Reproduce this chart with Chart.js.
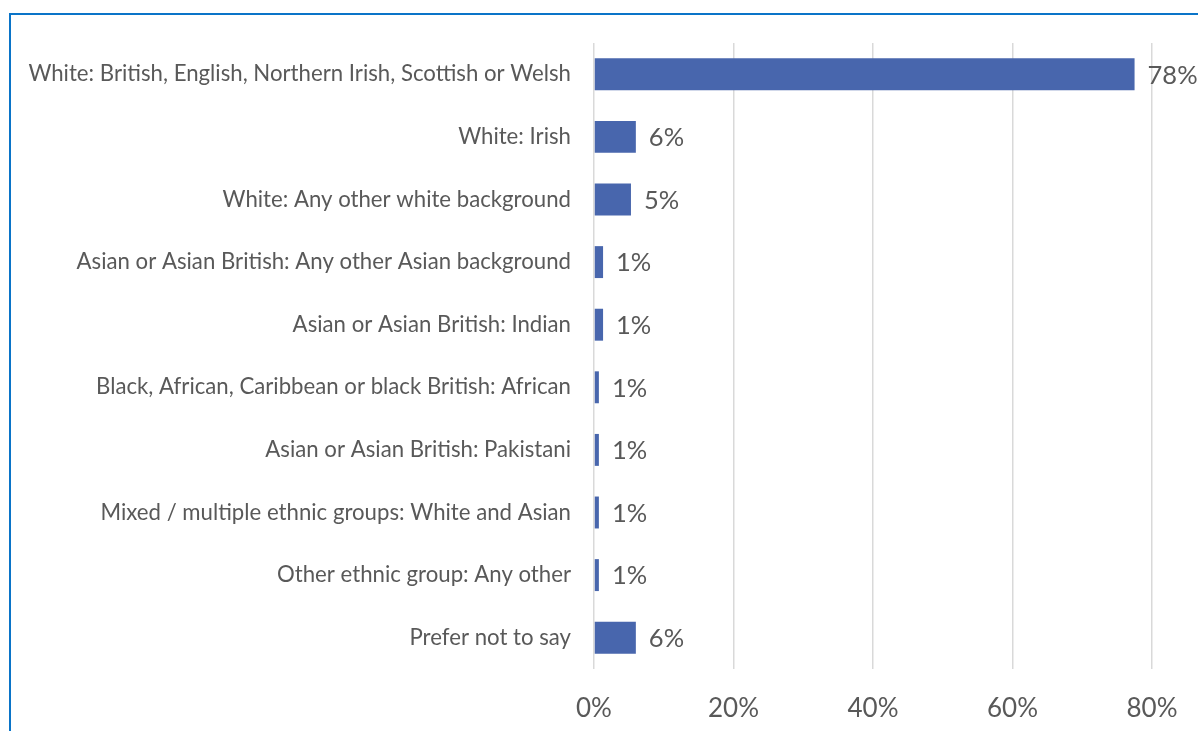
<!DOCTYPE html>
<html>
<head>
<meta charset="utf-8">
<title>Ethnic group of respondents</title>
<script src="https://cdn.jsdelivr.net/npm/chart.js@4/dist/chart.umd.min.js"></script>
<style>
  html, body { margin: 0; padding: 0; background: #ffffff; overflow: hidden; }
  #wrap { position: relative; width: 1198px; height: 731px; }
  #chart { position: absolute; left: 0; top: 0; }
  #frame {
    position: absolute; left: 9px; top: 13px; width: 1400px; height: 900px;
    border-left: 2px solid #0a74c8; border-top: 2px solid #0a74c8;
    pointer-events: none;
  }
</style>
</head>
<body>
<div id="wrap">
  <canvas id="chart" width="1198" height="731"></canvas>
  <div id="frame"></div>
</div>
<script>
// Ethnic group categories, top to bottom
const categories = [
  'White: British, English, Northern Irish, Scottish or Welsh',
  'White: Irish',
  'White: Any other white background',
  'Asian or Asian British: Any other Asian background',
  'Asian or Asian British: Indian',
  'Black, African, Caribbean or black British: African',
  'Asian or Asian British: Pakistani',
  'Mixed / multiple ethnic groups: White and Asian',
  'Other ethnic group: Any other',
  'Prefer not to say'
];

// Share of respondents (%)
const shares = [77.5, 6.0, 5.3, 1.3, 1.3, 0.7, 0.7, 0.7, 0.7, 6.0];

// Percentage axis ticks
const axisMin = 0;
const axisMax = 80;
const axisStep = 20;

const textColor = '#595959';
const barColor = '#4866ad';
const gridColor = '#d9d9d9';
const fontFamily = 'Lato, "Open Sans", sans-serif';

// Writes the rounded percentage just past the end of each bar
const valueLabels = {
  id: 'valueLabels',
  afterDatasetsDraw(chart) {
    const ctx = chart.ctx;
    const meta = chart.getDatasetMeta(0);
    const values = chart.data.datasets[0].data;
    ctx.save();
    ctx.font = '25.5px ' + fontFamily;
    ctx.fillStyle = textColor;
    ctx.textAlign = 'left';
    ctx.textBaseline = 'middle';
    meta.data.forEach((bar, i) => {
      ctx.fillText(Math.round(values[i]) + '%', bar.x + 13, bar.y + 1);
    });
    ctx.restore();
  }
};

new Chart(document.getElementById('chart'), {
  type: 'bar',
  data: {
    labels: categories,
    datasets: [{
      data: shares,
      backgroundColor: barColor,
      borderWidth: 0,
      categoryPercentage: 1,
      barPercentage: 0.51
    }]
  },
  options: {
    indexAxis: 'y',
    responsive: false,
    animation: false,
    layout: { padding: { top: 43, right: 46, bottom: 0, left: 0 } },
    plugins: {
      legend: { display: false },
      tooltip: { enabled: false }
    },
    scales: {
      x: {
        min: axisMin,
        max: axisMax,
        afterFit(axis) { axis.height = 62; },
        grid: {
          color: gridColor,
          lineWidth: 1.5,
          drawTicks: true,
          tickLength: 22,
          tickColor: 'rgba(0,0,0,0)'
        },
        border: { display: false },
        ticks: {
          stepSize: axisStep,
          padding: 2,
          color: textColor,
          font: { family: fontFamily, size: 26 },
          callback: v => v + '%'
        }
      },
      y: {
        afterFit(axis) { axis.width = 594; },
        grid: { display: false, drawTicks: false },
        border: { display: false },
        ticks: {
          padding: 23,
          color: textColor,
          font: { family: fontFamily, size: 22.2 }
        }
      }
    }
  },
  plugins: [valueLabels]
});
</script>
</body>
</html>
